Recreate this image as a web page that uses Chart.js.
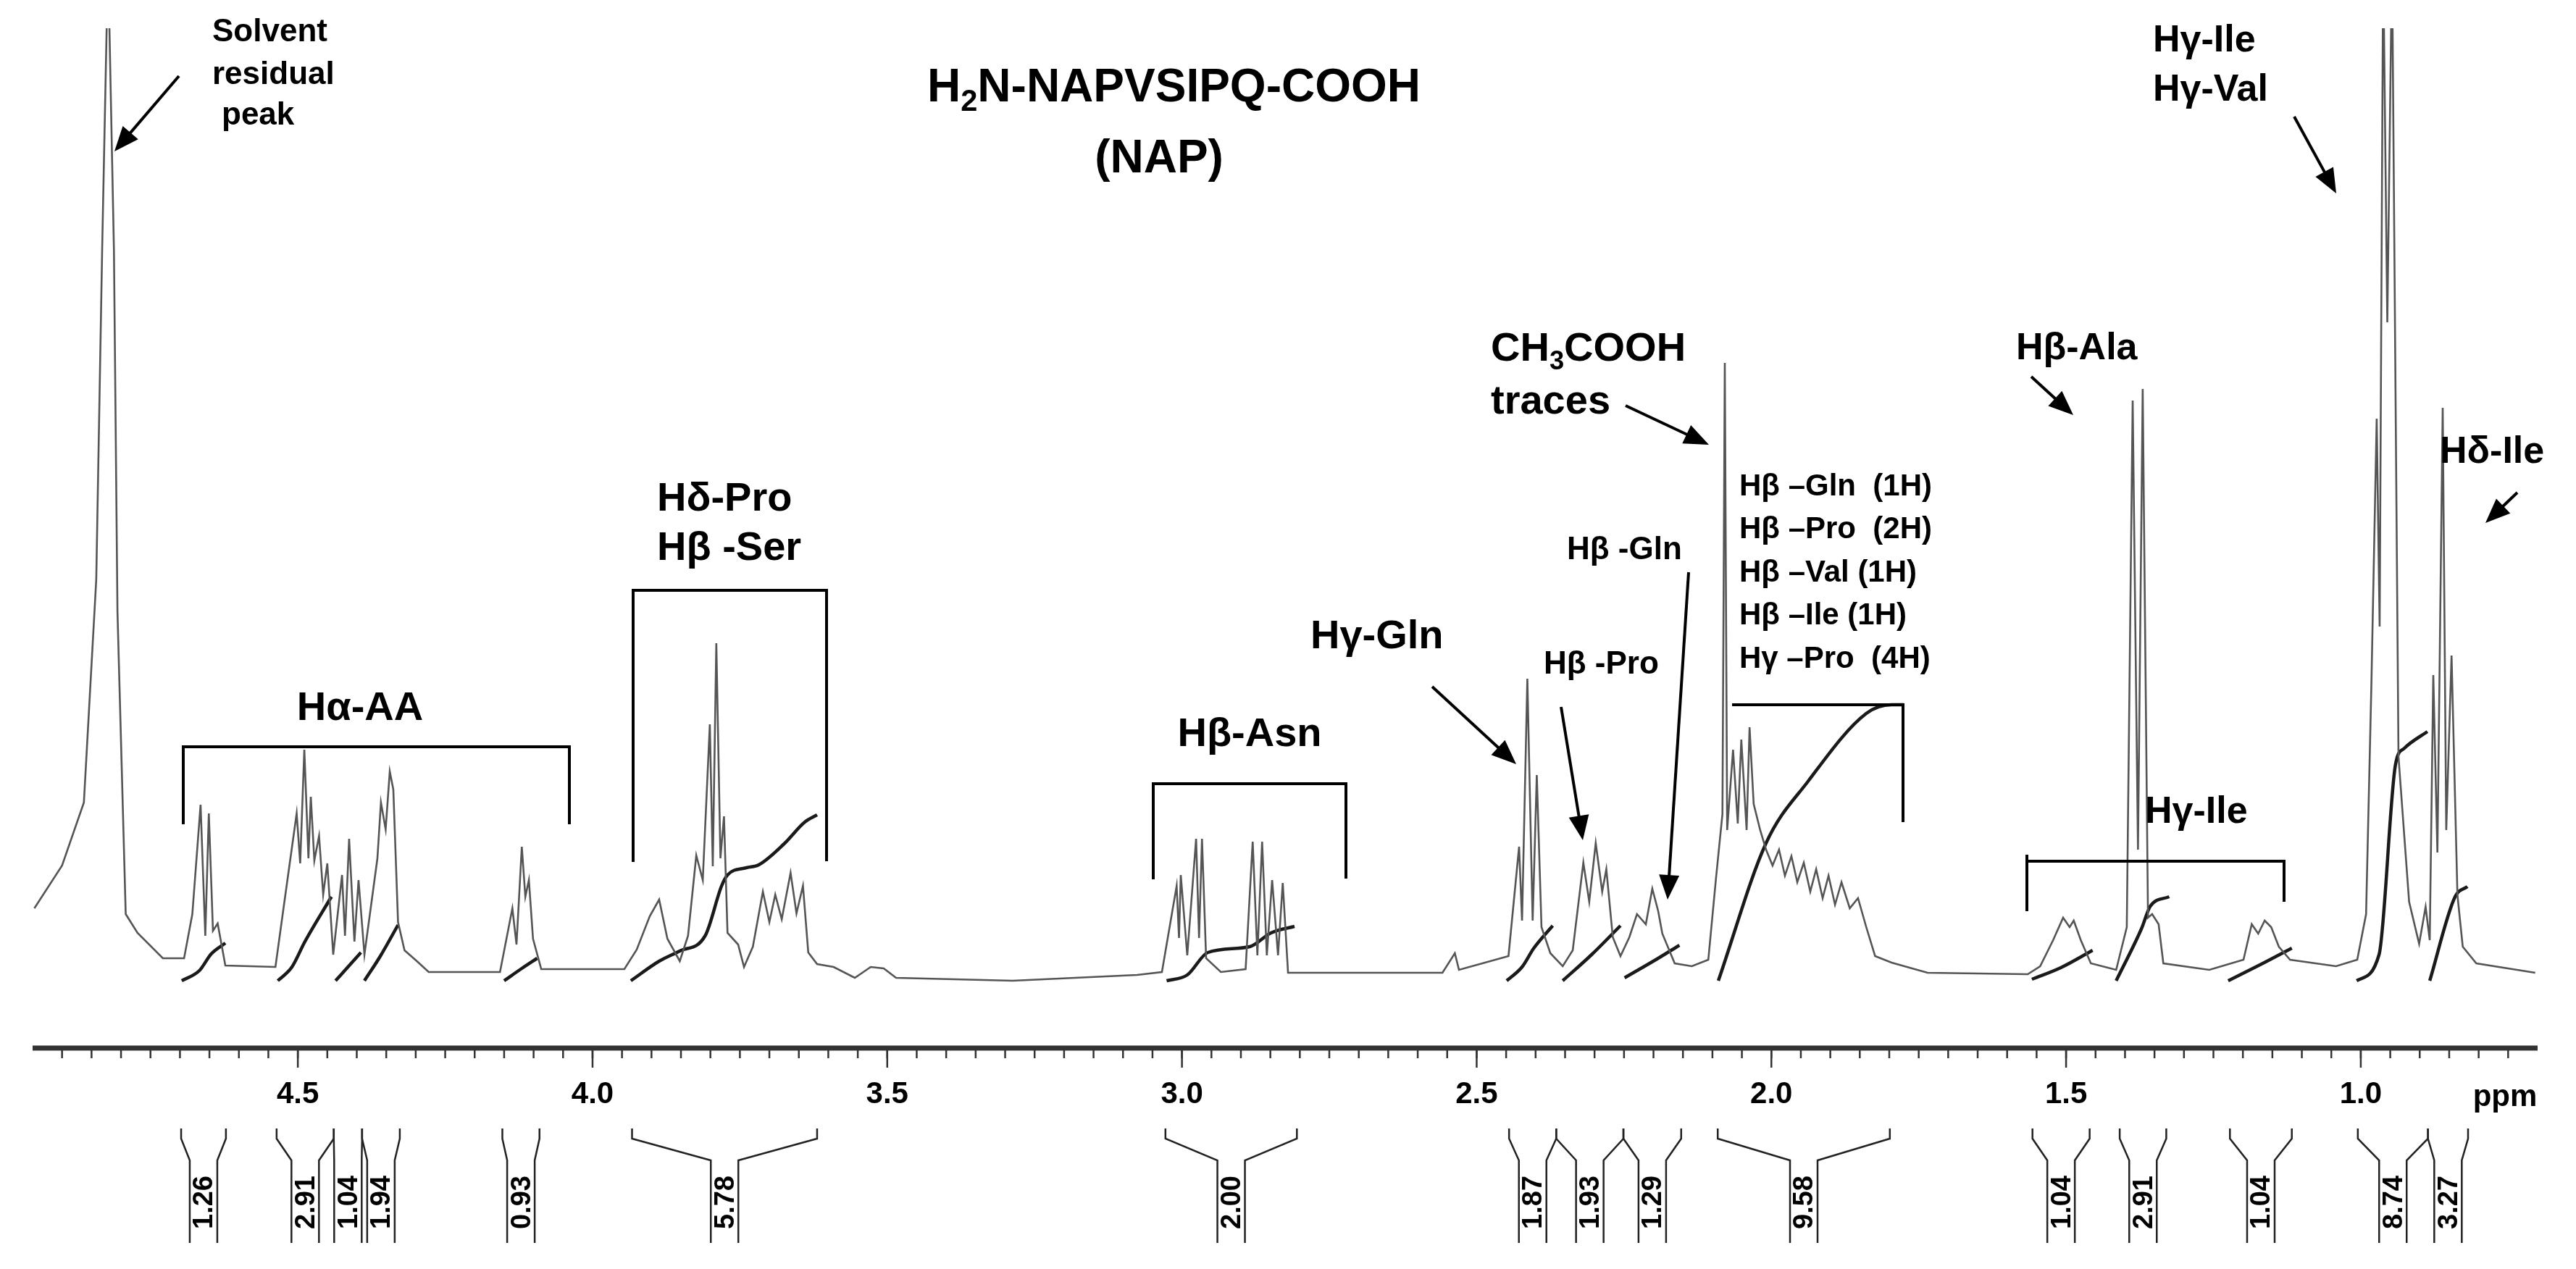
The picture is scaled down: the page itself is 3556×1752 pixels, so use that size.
<!DOCTYPE html>
<html>
<head>
<meta charset="utf-8">
<script src="https://cdn.jsdelivr.net/npm/chart.js@4.4.1/dist/chart.umd.min.js"></script>
<style>
  html, body { margin: 0; padding: 0; background: #fff; }
  #wrap { width: 3556px; height: 1752px; }
</style>
</head>
<body>
<div id="wrap"><canvas id="nmr"></canvas></div>
<script>
// 1H NMR of NAP peptide, ppm axis reversed
const specPpm = [4.947, 4.900, 4.863, 4.842, 4.832, 4.822, 4.812, 4.806, 4.792, 4.772, 4.729, 4.693,
  4.679, 4.665, 4.657, 4.651, 4.644, 4.636, 4.623, 4.538,
  4.525, 4.502, 4.496, 4.489, 4.482, 4.478, 4.472, 4.464, 4.457, 4.450, 4.440, 4.425, 4.420, 4.413, 4.404, 4.397, 4.387,
  4.365, 4.359, 4.351, 4.344, 4.338, 4.330, 4.319, 4.298, 4.278, 4.157,
  4.136, 4.129, 4.120, 4.114, 4.108, 4.101, 4.087, 3.946,
  3.925, 3.903, 3.887, 3.873, 3.852, 3.838, 3.824, 3.813, 3.801, 3.796, 3.790, 3.783, 3.777, 3.771, 3.753, 3.743,
  3.728, 3.711, 3.700, 3.690, 3.679, 3.664, 3.654, 3.643, 3.634, 3.619, 3.591, 3.555, 3.528, 3.506, 3.485, 3.287,
  3.076, 3.034, 3.009, 3.005, 3.002, 2.991, 2.976, 2.971, 2.966, 2.959, 2.934, 2.892, 2.880, 2.872, 2.864, 2.856, 2.847, 2.837, 2.829, 2.820,
  2.558, 2.537, 2.530, 2.446, 2.428, 2.423, 2.414, 2.405, 2.398, 2.390, 2.375, 2.354,
  2.337, 2.319, 2.309, 2.298, 2.287, 2.280, 2.269, 2.256, 2.241, 2.228, 2.213, 2.202, 2.192, 2.185, 2.164, 2.135, 2.107,
  2.094, 2.083, 2.079, 2.075, 2.065, 2.057, 2.051, 2.042, 2.037, 2.030, 2.019, 2.009, 1.998, 1.987, 1.977, 1.966, 1.956,
  1.945, 1.934, 1.924, 1.913, 1.903, 1.892, 1.881, 1.867, 1.853, 1.839, 1.824, 1.796, 1.735,
  1.565, 1.544, 1.522, 1.505, 1.494, 1.487, 1.475, 1.458, 1.415, 1.397, 1.387, 1.378, 1.370, 1.361, 1.354, 1.343, 1.335,
  1.257, 1.199, 1.185, 1.174, 1.163, 1.152, 1.139, 1.120, 1.042, 1.006, 0.991, 0.982, 0.973, 0.968, 0.962, 0.955, 0.947,
  0.936, 0.918, 0.901, 0.890, 0.883, 0.877, 0.870, 0.861, 0.855, 0.846, 0.836, 0.827, 0.804, 0.704];
const specInt = [91, 150, 237, 545, 1000, 1400, 1000, 500, 83, 57, 22, 22,
  83, 234, 53, 222, 60, 70, 12, 10,
  87, 222, 153, 310, 160, 245, 157, 191, 110, 153, 27, 137, 53, 187, 45, 130, 27,
  160, 237, 200, 280, 255, 72, 33, 18, 3, 3,
  91, 41, 176, 107, 130, 49, 7, 7,
  34, 80, 103, 49, 18, 53, 164, 130, 345, 149, 457, 160, 218, 57, 41, 10,
  38, 114, 72, 110, 76, 140, 84, 122, 30, 14, 10, -5, 10, 8, -5, -9,
  -1, 3, 122, 50, 137, 26, 187, 50, 187, 22, 3, 7, 183, 26, 183, 26, 130, 26, 126, 2,
  2, 29, 6, 25, 176, 74, 408, 74, 275, 65, 29, 11,
  33, 154, 100, 181, 114, 145, 51, 25, 51, 83, 69, 118, 87, 56, 15, 11, 20,
  132, 221, 844, 199, 310, 208, 324, 199, 341, 235, 199, 172, 150, 172, 136, 163, 127,
  154, 114, 145, 105, 136, 96, 127, 91, 105, 65, 25, 16, 2,
  0, 11, 47, 78, 65, 74, 47, 15, 6, 65, 792, 172, 808, 78, 83, 69, 15,
  6, 20, 69, 56, 74, 65, 38, 20, 11, 20, 83, 400, 767, 480, 1400, 900, 1400,
  300, 100, 42, 93, 47, 413, 168, 782, 199, 440, 109, 38, 15, 2];

// integral traces [ppm, value]
const integralCurves = [
  [[4.697, -9], [4.667, 5], [4.647, 28], [4.623, 43]],
  [[4.534, -9], [4.510, 10], [4.488, 45], [4.443, 107]],
  [[4.436, -9], [4.415, 10], [4.393, 30]],
  [[4.387, -9], [4.360, 25], [4.330, 68]],
  [[4.150, -9], [4.120, 8], [4.094, 22]],
  [[3.935, -9], [3.887, 18], [3.852, 32], [3.809, 53], [3.781, 122], [3.771, 137], [3.739, 147], [3.718, 151], [3.675, 180], [3.640, 210], [3.619, 220]],
  [[3.026, -9], [2.991, -1], [2.956, 30], [2.885, 38], [2.849, 57], [2.809, 66]],
  [[2.449, -9], [2.423, 10], [2.403, 36], [2.371, 67]],
  [[2.354, -9], [2.305, 27], [2.256, 67]],
  [[2.249, -5], [2.192, 22], [2.156, 40]],
  [[2.090, -9], [2.009, 181], [1.938, 266], [1.839, 360], [1.796, 372], [1.775, 372]],
  [[1.558, -7], [1.509, 9], [1.455, 33]],
  [[1.415, -9], [1.372, 63], [1.357, 94], [1.325, 107]],
  [[1.225, -9], [1.171, 13], [1.117, 36]],
  [[1.007, -9], [0.969, 27], [0.941, 290], [0.926, 312], [0.887, 335]],
  [[0.883, -9], [0.840, 107], [0.819, 121]]
];

const intLabels = ['1.26', '2.91', '1.04', '1.94', '0.93', '5.78', '2.00', '1.87', '1.93', '1.29', '9.58', '1.04', '2.91', '1.04', '8.74', '3.27'];
const intFrom = [4.698, 4.536, 4.439, 4.391, 4.153, 3.933, 3.028, 2.445, 2.365, 2.251, 2.091, 1.557, 1.409, 1.222, 1.005, 0.886];
const intTo   = [4.622, 4.439, 4.391, 4.327, 4.090, 3.619, 2.805, 2.365, 2.251, 2.153, 1.799, 1.460, 1.330, 1.117, 0.886, 0.818];

const tickValues = [4.5, 4.0, 3.5, 3.0, 2.5, 2.0, 1.5, 1.0];

const FONT = '"Liberation Sans Narrow", "Liberation Sans", Arial, sans-serif';

function drawArrow(ctx, x1, y1, x2, y2) {
    const a = Math.atan2(y2 - y1, x2 - x1);
    const L = 34, W = 14;
    ctx.beginPath();
    ctx.moveTo(x1, y1);
    ctx.lineTo(x2 - L * 0.8 * Math.cos(a), y2 - L * 0.8 * Math.sin(a));
    ctx.lineWidth = 4;
    ctx.stroke();
    ctx.beginPath();
    ctx.moveTo(x2, y2);
    ctx.lineTo(x2 - L * Math.cos(a) + W * Math.sin(a), y2 - L * Math.sin(a) - W * Math.cos(a));
    ctx.lineTo(x2 - L * Math.cos(a) - W * Math.sin(a), y2 - L * Math.sin(a) + W * Math.cos(a));
    ctx.closePath();
    ctx.fill();
}

// text with subscript pieces: parts = [[text, isSub], ...]
function drawRich(ctx, parts, x, y, size, align) {
    ctx.textBaseline = 'middle';
    ctx.textAlign = 'left';
    let w = 0;
    parts.forEach(p => {
        ctx.font = `bold ${p[1] ? size * 0.65 : size}px ${FONT}`;
        w += ctx.measureText(p[0]).width;
    });
    let cx = align === 'center' ? x - w / 2 : x;
    parts.forEach(p => {
        ctx.font = `bold ${p[1] ? size * 0.65 : size}px ${FONT}`;
        ctx.fillText(p[0], cx, p[1] ? y + size * 0.3 : y);
        cx += ctx.measureText(p[0]).width;
    });
}

function txt(ctx, s, x, y, size, align) {
    ctx.font = `bold ${size}px ${FONT}`;
    ctx.textAlign = align || 'left';
    ctx.textBaseline = 'middle';
    ctx.fillText(s, x, y);
}

function bracket(ctx, x1, x2, yTop, yB1, yB2) {
    ctx.beginPath();
    ctx.moveTo(x1, yB1);
    ctx.lineTo(x1, yTop);
    ctx.lineTo(x2, yTop);
    ctx.lineTo(x2, yB2);
    ctx.lineWidth = 4;
    ctx.stroke();
}

const decorPlugin = {
    id: 'decor',
    afterDraw(chart) {
        const ctx = chart.ctx;
        const xs = chart.scales.x;
        const bottom = chart.chartArea.bottom;
        ctx.save();
        ctx.strokeStyle = '#000';
        ctx.fillStyle = '#000';

        // ppm axis
        ctx.strokeStyle = '#333';
        ctx.lineWidth = 7;
        ctx.beginPath();
        ctx.moveTo(chart.chartArea.left, bottom);
        ctx.lineTo(chart.chartArea.right, bottom);
        ctx.stroke();
        ctx.lineWidth = 2.5;
        for (let v = 4.9; v > 0.72; v -= 0.05) {
            const px = xs.getPixelForValue(v);
            ctx.beginPath();
            ctx.moveTo(px, bottom);
            ctx.lineTo(px, bottom + 14);
            ctx.stroke();
        }
        tickValues.forEach(v => {
            const px = xs.getPixelForValue(v);
            ctx.beginPath();
            ctx.moveTo(px, bottom);
            ctx.lineTo(px, bottom + 27);
            ctx.stroke();
            txt(ctx, v.toFixed(1), px, bottom + 64, 42, 'center');
        });
        txt(ctx, 'ppm', 3458, bottom + 68, 42, 'center');

        // integral brackets and values
        ctx.strokeStyle = '#222';
        ctx.lineWidth = 2.5;
        intLabels.forEach((lab, i) => {
            const xl = xs.getPixelForValue(intFrom[i]);
            const xr = xs.getPixelForValue(intTo[i]);
            const c = (xl + xr) / 2;
            const hw = 19;
            ctx.beginPath();
            ctx.moveTo(xl, 1558); ctx.lineTo(xl, 1572); ctx.lineTo(c - hw, 1602); ctx.lineTo(c - hw, 1716);
            ctx.moveTo(xr, 1558); ctx.lineTo(xr, 1572); ctx.lineTo(c + hw, 1602); ctx.lineTo(c + hw, 1716);
            ctx.stroke();
            ctx.save();
            ctx.translate(c, 1660);
            ctx.rotate(-Math.PI / 2);
            txt(ctx, lab, 0, 2, 38, 'center');
            ctx.restore();
        });

        // annotation text, brackets, arrows
        ctx.strokeStyle = '#000';
        ctx.fillStyle = '#000';
        txt(ctx, 'Solvent', 293, 45, 44);
        txt(ctx, 'residual', 293, 104, 44);
        txt(ctx, 'peak', 306, 160, 44);
        drawArrow(ctx, 247, 105, 158, 209);

        drawRich(ctx, [['H', false], ['2', true], ['N-NAPVSIPQ-COOH', false]], 1280, 122, 64, 'left');
        txt(ctx, '(NAP)', 1600, 220, 64, 'center');

        txt(ctx, 'H\u03b1-AA', 497, 979, 56, 'center');
        bracket(ctx, 253, 786, 1031, 1138, 1138);

        txt(ctx, 'H\u03b4-Pro', 907, 690, 56);
        txt(ctx, 'H\u03b2 -Ser', 907, 758, 56);
        bracket(ctx, 874, 1141, 815, 1190, 1189);

        txt(ctx, 'H\u03b2-Asn', 1725, 1015, 56, 'center');
        bracket(ctx, 1592, 1858, 1082, 1214, 1213);

        txt(ctx, 'H\u03b3-Gln', 1809, 880, 56);
        drawArrow(ctx, 1977, 948, 2093, 1055);
        txt(ctx, 'H\u03b2 -Pro', 2131, 918, 44);
        drawArrow(ctx, 2155, 976, 2185, 1160);
        txt(ctx, 'H\u03b2 -Gln', 2163, 760, 44);
        drawArrow(ctx, 2331, 790, 2302, 1242);

        drawRich(ctx, [['CH', false], ['3', true], ['COOH', false]], 2058, 483, 56, 'left');
        txt(ctx, 'traces', 2058, 556, 56);
        drawArrow(ctx, 2244, 560, 2359, 614);

        const block = ['H\u03b2 \u2013Gln  (1H)', 'H\u03b2 \u2013Pro  (2H)', 'H\u03b2 \u2013Val (1H)', 'H\u03b2 \u2013Ile (1H)', 'H\u03b3 \u2013Pro  (4H)'];
        block.forEach((s, i) => txt(ctx, s, 2401, 672 + i * 59.5, 42));
        bracket(ctx, 2391, 2627, 973, 973, 1135);

        txt(ctx, 'H\u03b2-Ala', 2783, 482, 52);
        drawArrow(ctx, 2804, 520, 2862, 573);

        txt(ctx, 'H\u03b3-Ile', 2972, 57, 52);
        txt(ctx, 'H\u03b3-Val', 2972, 125, 52);
        drawArrow(ctx, 3167, 161, 3225, 267);

        txt(ctx, 'H\u03b4-Ile', 3368, 625, 52);
        drawArrow(ctx, 3475, 680, 3431, 722);

        txt(ctx, 'H\u03b3-Ile', 2961, 1122, 52);
        bracket(ctx, 2798, 3153, 1189, 1258, 1245);
        ctx.beginPath();
        ctx.moveTo(2798, 1180); ctx.lineTo(2798, 1189); ctx.stroke();

        ctx.restore();
    }
};

const datasets = [{
    data: specPpm.map((p, i) => ({ x: p, y: specInt[i] })),
    borderColor: '#555',
    borderWidth: 2.6,
    pointRadius: 0,
    tension: 0,
    fill: false
}];
integralCurves.forEach(curve => {
    datasets.push({
        data: curve.map(p => ({ x: p[0], y: p[1] })),
        borderColor: '#1a1a1a',
        borderWidth: 4.5,
        pointRadius: 0,
        cubicInterpolationMode: 'monotone',
        fill: false
    });
});

new Chart(document.getElementById('nmr'), {
    type: 'line',
    data: { datasets },
    options: {
        responsive: true,
        maintainAspectRatio: false,
        animation: false,
        layout: { padding: { left: 45, right: 53, top: 39, bottom: 305 } },
        plugins: { legend: { display: false }, tooltip: { enabled: false } },
        scales: {
            x: { type: 'linear', reverse: true, min: 0.70, max: 4.95, display: false },
            y: { min: -102, max: 1306, display: false }
        }
    },
    plugins: [decorPlugin]
});
</script>
</body>
</html>
